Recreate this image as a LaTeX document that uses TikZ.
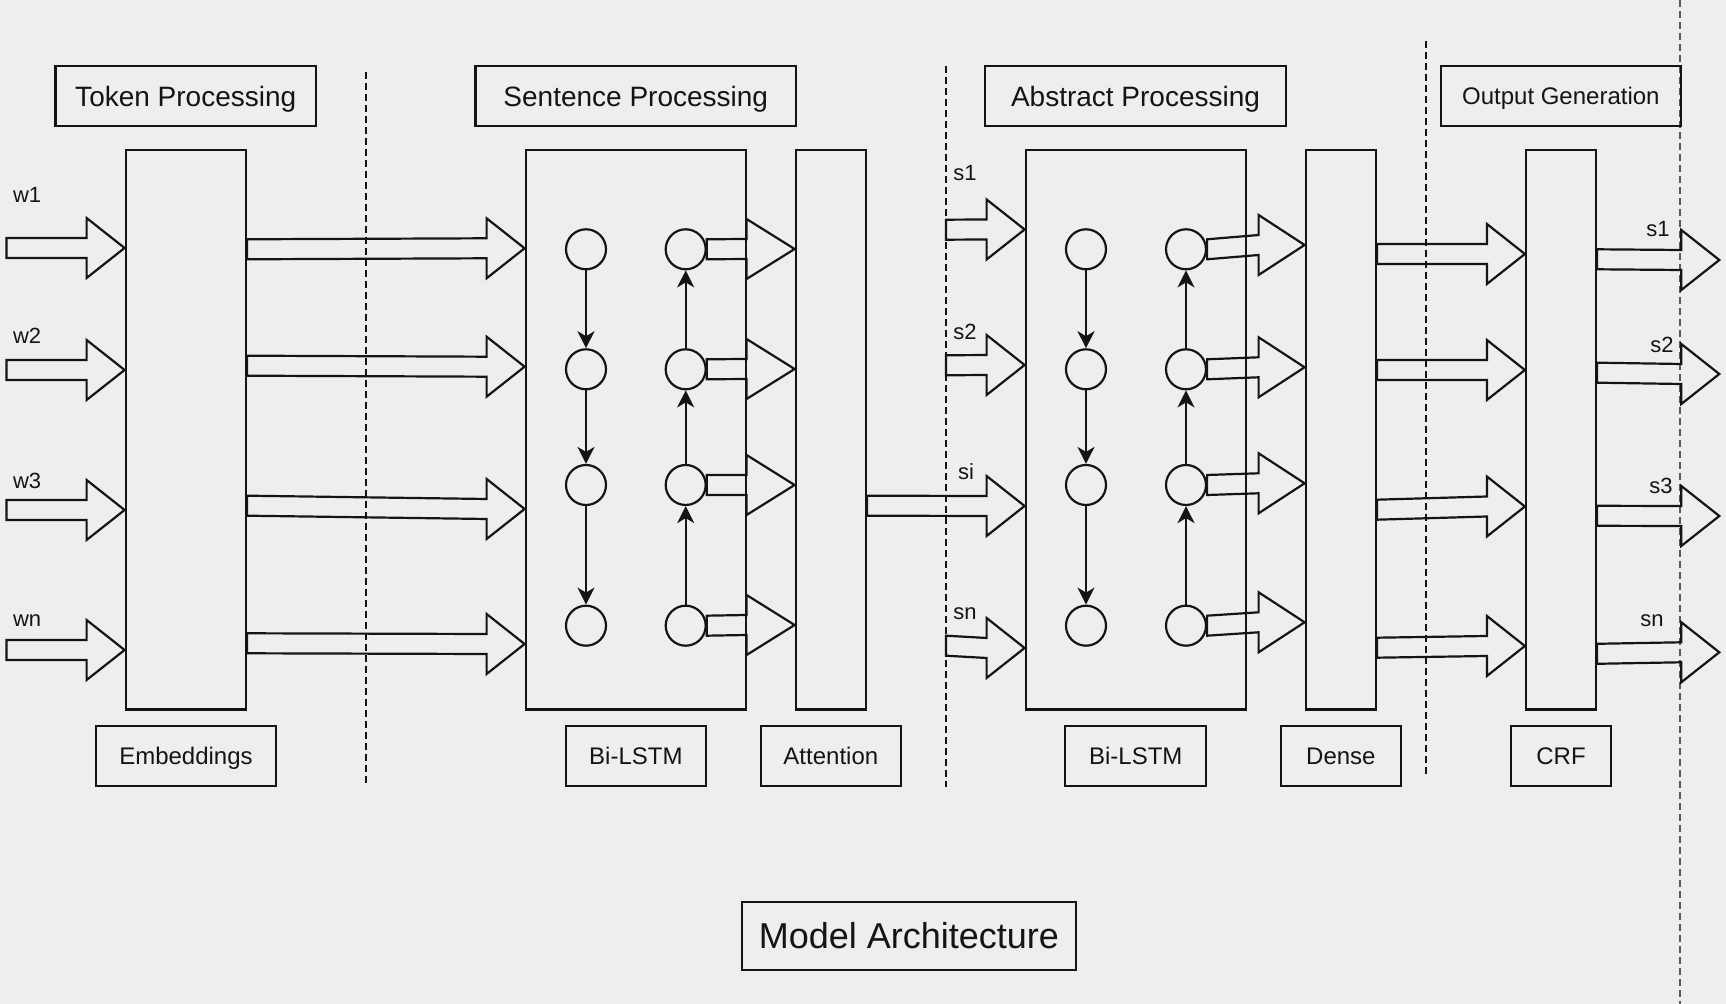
\documentclass[tikz,border=0pt]{standalone}
\usepackage{fontspec}
\setmainfont{Liberation Sans}
\usetikzlibrary{arrows.meta,calc}
\definecolor{bgc}{HTML}{EEEEEE}
\definecolor{ink}{HTML}{141414}

% hollow block arrow: [head length]{from}{to}
\newcommand{\fatarrow}[3][19pt]{%
  \draw[fat] let \p1=(#2), \p2=(#3) in
    (\x1,\y1+5pt) -- (\x2-#1,\y2+5pt) -- (\x2-#1,\y2+15pt) -- (\x2,\y2)
    -- (\x2-#1,\y2-15pt) -- (\x2-#1,\y2-5pt) -- (\x1,\y1-5pt) -- cycle;}

\begin{document}
\begin{tikzpicture}[
  x=0.5pt, y=-0.5pt,
  every node/.style={text=ink, align=center},
  box/.style={draw=ink, line width=1.1pt, inner sep=0pt},
  header/.style={box, minimum height=30pt, text depth=0pt, font=\fontsize{14}{17}\selectfont},
  tag/.style={box, minimum height=30pt, text depth=0pt, font=\fontsize{12}{14}\selectfont},
  layer/.style={box, minimum height=279.75pt},
  cell/.style={circle, draw=ink, line width=1.1pt, minimum size=20pt, inner sep=0pt},
  word/.style={inner sep=0pt, font=\fontsize{11}{13}\selectfont},
  flow/.style={-{Stealth[length=8.5pt,width=8.5pt,inset=2.5pt]}, draw=ink, line width=1.1pt},
  fat/.style={draw=ink, line width=1.1pt, line join=miter},
  split/.style={draw=ink, line width=0.9pt, dash pattern=on 3.5pt off 2pt}]

\fill[bgc] (0,0) rectangle (1726,1004);
\useasboundingbox (0,0) rectangle (1726,1004);

% Stage separators
\draw[split] (365.9,71.7) -- (365.9,786);
\draw[split] (945.7,66) -- (945.7,786.7);
\draw[split] (1426,40.7) -- (1426,775.7);
\draw[split, draw=ink!70] (1680,0) -- (1680,1004);

% Stage headers
\node[header, minimum width=130.25pt] (tokenHead) at (185.75,96) {Token Processing};
\node[header, minimum width=160.25pt] (sentHead) at (635.75,96) {Sentence Processing};
\node[header, minimum width=150.5pt] (absHead) at (1135.5,96) {Abstract Processing};
\node[header, minimum width=120.15pt, font=\fontsize{12}{14}\selectfont] (outHead) at (1560.85,96) {Output Generation};

% Layers
\node[layer, minimum width=60.15pt] (emb) at (185.85,429.75) {};
\node[layer, minimum width=110.15pt] (sentLstm) at (635.85,429.75) {};
\node[layer, minimum width=35.15pt] (att) at (830.85,429.75) {};
\node[layer, minimum width=110.15pt] (absLstm) at (1135.85,429.75) {};
\node[layer, minimum width=35.15pt] (dense) at (1340.85,429.75) {};
\node[layer, minimum width=35pt] (crf) at (1561,429.75) {};

% Layer names
\node[tag, minimum width=90.3pt] (embTag) at (186,756) {Embeddings};
\node[tag, minimum width=70.15pt] (sentTag) at (635.85,756) {Bi-LSTM};
\node[tag, minimum width=70.15pt] (attTag) at (830.85,756) {Attention};
\node[tag, minimum width=70.5pt] (absTag) at (1135.8,756) {Bi-LSTM};
\node[tag, minimum width=60.15pt] (denseTag) at (1340.85,756) {Dense};
\node[tag, minimum width=50.3pt] (crfTag) at (1561,756) {CRF};

\node[box, minimum width=167.3pt, minimum height=34.15pt, text depth=0pt, font=\fontsize{18}{21}\selectfont] (title) at (909,935.85) {Model Architecture};

% LSTM cells
\foreach \ry [count=\i] in {249.3,369.3,485,625.7} {
  \node[cell] (sf\i) at (586,\ry) {};
  \node[cell] (sb\i) at (685.7,\ry) {};
  \node[cell] (af\i) at (1086,\ry) {};
  \node[cell] (ab\i) at (1186,\ry) {};
}
\foreach \i/\j in {1/2,2/3,3/4} {
  \draw[flow] (sf\i) -- (sf\j);
  \draw[flow] (sb\j) -- (sb\i);
  \draw[flow] (af\i) -- (af\j);
  \draw[flow] (ab\j) -- (ab\i);
}

% Token inputs
\foreach \w/\ly/\ry [count=\i] in {w1/194.5/248, w2/335.7/370, w3/480.7/510, wn/620.7/650} {
  \node[word, anchor=west] (lbl\w) at (12.6,\ly) {\w};
  \coordinate (in\i) at (6.5,\ry);
  \fatarrow{in\i}{emb.west |- in\i}
}

% Embeddings to sentence Bi-LSTM
\foreach \a/\b in {249.3/248.3, 365.7/366.7, 505.7/509, 643.3/644} {
  \fatarrow{emb.east |- 0,\a}{sentLstm.west |- 0,\b}
}

% Sentence Bi-LSTM to attention
\foreach \ry [count=\i] in {249,369,485,625} {
  \fatarrow[24pt]{sb\i.east}{att.west |- 0,\ry}
}

% Sentence vectors into abstract Bi-LSTM
\fatarrow{att.east |- 0,505.7}{absLstm.west |- 0,506}
\node[word, anchor=west] (lblsi) at (957.7,472) {si};
\foreach \t/\ly/\a/\b [count=\i] in {s1/172.8/229.7/229.5, s2/332/365.3/365, sn/613.3/645.7/648} {
  \node[word, anchor=west] (lbl\t) at (953,\ly) {\t};
  \coordinate (sin\i) at (946,\a);
  \fatarrow{sin\i}{absLstm.west |- 0,\b}
}

% Abstract Bi-LSTM to dense
\foreach \ry [count=\i] in {245,367.3,483.3,622.3} {
  \fatarrow[23pt]{ab\i.east}{dense.west |- 0,\ry}
}

% Dense to CRF
\foreach \a/\b in {254/254, 370/370, 509.7/506.5, 647.7/646} {
  \fatarrow{dense.east |- 0,\a}{crf.west |- 0,\b}
}

% Outputs
\foreach \a/\b/\t/\ly/\lx [count=\i] in {259.3/260/s1/228.7/1670, 372.7/374/s2/345/1674, 515.8/516/s3/486/1673, 653.8/652.3/sn/620.7/1664} {
  \coordinate (out\i) at (1719.3,\b);
  \fatarrow{crf.east |- 0,\a}{out\i}
  \node[word, anchor=east] (lo\i) at (\lx,\ly) {\t};
}

\end{tikzpicture}
\end{document}
